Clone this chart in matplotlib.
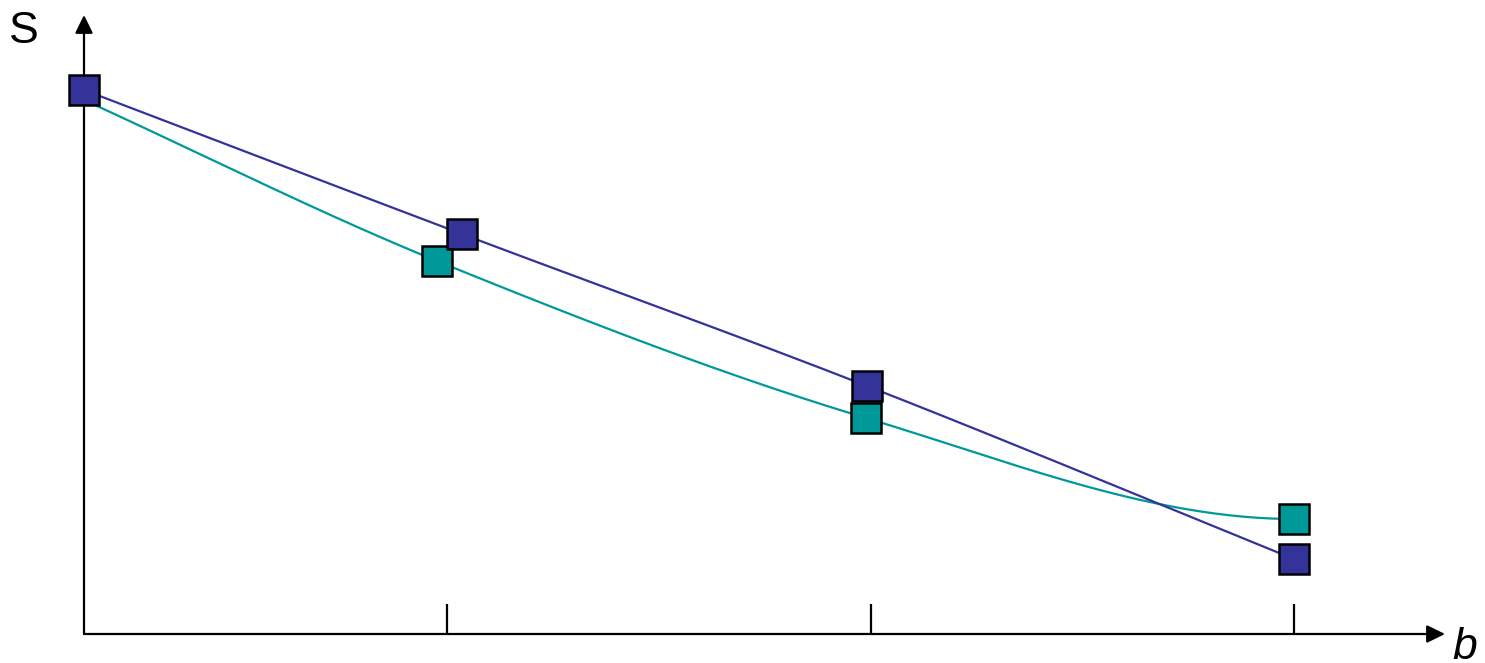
import numpy as np
import matplotlib
matplotlib.use("Agg")
import matplotlib.pyplot as plt

plt.rcParams['font.family'] = ['Liberation Sans', 'DejaVu Sans']

# ---- data (arbitrary units) ----
x_ticks = [3.63, 7.87, 12.10]
blue_x = [0.0, 3.78, 7.83, 12.10]
blue_y = [5.44, 4.00, 2.48, 0.75]
teal_x = [0.0, 3.53, 7.82, 12.10]
teal_y = [5.34, 3.73, 2.16, 1.15]
y_label = "S"
x_label = "b"

BLUE = "#333399"
TEAL = "#009999"


def hermite_smooth(x, y, end_slopes=(None, None), n=60):
    x = np.asarray(x, float)
    y = np.asarray(y, float)
    m = np.zeros_like(y)
    for i in range(len(x)):
        if i == 0:
            m[i] = (y[1] - y[0]) / (x[1] - x[0])
        elif i == len(x) - 1:
            m[i] = (y[-1] - y[-2]) / (x[-1] - x[-2])
        else:
            m[i] = (y[i + 1] - y[i - 1]) / (x[i + 1] - x[i - 1])
    if end_slopes[0] is not None:
        m[0] = end_slopes[0]
    if end_slopes[1] is not None:
        m[-1] = end_slopes[1]
    xs, ys = [], []
    for i in range(len(x) - 1):
        h = x[i + 1] - x[i]
        t = np.linspace(0, 1, n)
        h00 = 2 * t**3 - 3 * t**2 + 1
        h10 = t**3 - 2 * t**2 + t
        h01 = -2 * t**3 + 3 * t**2
        h11 = t**3 - t**2
        xs.append(x[i] + t * h)
        ys.append(h00 * y[i] + h10 * h * m[i] + h01 * y[i + 1] + h11 * h * m[i + 1])
    return np.concatenate(xs), np.concatenate(ys)


fig = plt.figure(figsize=(14.85, 6.63), dpi=100)
ax = fig.add_axes([0, 0, 1, 1])
ax.set_xlim(-0.84, 14.01)
ax.set_ylim(-0.29, 6.34)
ax.axis("off")

# axes with arrows
arrow_kw = dict(arrowstyle="-|>,head_length=0.55,head_width=0.27", lw=1.6,
                color="black", shrinkA=0, shrinkB=0, mutation_scale=20)
ax.annotate("", xy=(13.61, 0), xytext=(0, 0), arrowprops=arrow_kw)
ax.annotate("", xy=(0, 6.19), xytext=(0, 0), arrowprops=arrow_kw)
ax.vlines(x_ticks, 0, 0.30, color="black", lw=1.6)

# series
tx, ty = hermite_smooth(teal_x, teal_y, end_slopes=(None, 0.0))
ax.plot(tx, ty, color=TEAL, lw=1.6, zorder=3)
ax.plot(teal_x, teal_y, linestyle="none", marker="s", markersize=21,
        markevery=[1, 2, 3],
        markerfacecolor=TEAL, markeredgecolor="black", markeredgewidth=1.8, zorder=4)

bx, by = hermite_smooth(blue_x, blue_y)
ax.plot(bx, by, color=BLUE, lw=1.6, zorder=5)
ax.plot(blue_x, blue_y, linestyle="none", marker="s", markersize=21,
        markerfacecolor=BLUE, markeredgecolor="black", markeredgewidth=1.8, zorder=6)

ax.text(-0.75, 5.913, y_label, fontsize=32, ha="left", va="baseline")
ax.text(13.68, -0.25, x_label, fontsize=32, style="italic", ha="left", va="baseline")

fig.savefig("out.png", dpi=100)
